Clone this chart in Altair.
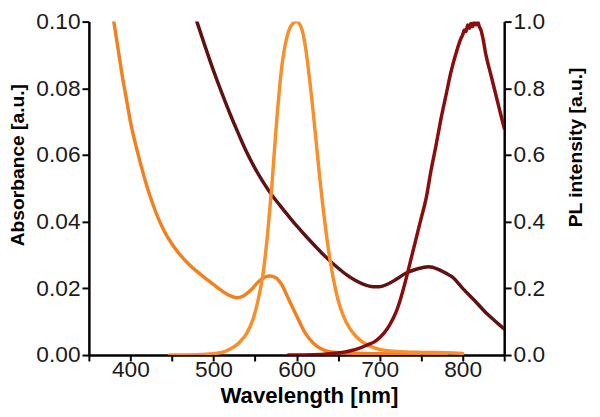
import altair as alt
import pandas as pd

# ---- data ----
orange_abs_wl = [380, 385, 390, 395, 400, 410, 420, 430, 440, 450, 460, 470, 480, 490, 500,
                 510, 520, 528, 535, 545, 555, 562, 568, 575, 582, 590, 600, 610, 620, 630,
                 640, 660, 700, 750, 780]
orange_abs_val = [0.100, 0.092, 0.084, 0.077, 0.070, 0.0595, 0.0505, 0.0432, 0.0375, 0.0333,
                  0.0300, 0.0273, 0.0251, 0.0231, 0.0212, 0.0193, 0.0178, 0.0172, 0.0176, 0.0195,
                  0.0222, 0.0234, 0.0237, 0.0232, 0.0212, 0.0170, 0.0118, 0.0068, 0.0036, 0.0018,
                  0.0010, 0.0006, 0.0004, 0.0003, 0.0002]

dark_abs_wl = [480, 490, 500, 510, 520, 530, 540, 550, 560, 570, 580, 590, 600, 610, 620, 630,
               640, 650, 660, 670, 680, 692, 700, 710, 720, 732, 745, 759, 770, 780, 787, 800,
               816, 830, 840, 850]
dark_abs_val = [0.100, 0.0925, 0.0853, 0.0786, 0.0723, 0.0664, 0.0608, 0.0560, 0.0518, 0.0481,
                0.0449, 0.0418, 0.0388, 0.0360, 0.0333, 0.0307, 0.0283, 0.0261, 0.0241, 0.0225,
                0.0213, 0.0205, 0.0205, 0.0213, 0.0227, 0.0246, 0.0258, 0.0265, 0.0258, 0.0245,
                0.0235, 0.0200, 0.0159, 0.0122, 0.0100, 0.0078]

orange_pl_wl = [447, 480, 500, 515, 525, 532, 540, 548, 555, 560, 565, 570, 576, 582, 588, 594,
                600, 606, 611, 616, 620, 624, 628, 632, 636, 640, 645, 650, 656, 664, 672, 680,
                690, 700, 720, 750, 780, 800]
orange_pl_val = [0.0, 0.001, 0.004, 0.012, 0.025, 0.040, 0.065, 0.110, 0.180, 0.250, 0.360,
                 0.500, 0.700, 0.860, 0.950, 0.990, 1.000, 0.980, 0.920, 0.820, 0.730, 0.630,
                 0.530, 0.440, 0.360, 0.290, 0.220, 0.165, 0.120, 0.080, 0.055, 0.038, 0.025,
                 0.017, 0.011, 0.008, 0.007, 0.005]

dark_pl_wl = [590, 620, 640, 655, 665, 675, 685, 695, 705, 712, 720, 726, 732, 738, 744, 750,
              756, 762, 768, 774, 780, 786, 792, 798, 800, 802, 804, 806, 808, 810, 812, 814,
              816, 818, 820, 822, 824, 828, 834, 840, 846, 850]
dark_pl_val = [0.0, 0.001, 0.004, 0.008, 0.013, 0.020, 0.030, 0.042, 0.065, 0.090, 0.130, 0.175,
               0.230, 0.290, 0.350, 0.410, 0.470, 0.555, 0.630, 0.710, 0.780, 0.850, 0.905,
               0.950, 0.960, 0.975, 0.970, 0.990, 0.980, 0.995, 0.985, 1.000, 0.990, 1.000,
               0.985, 0.975, 0.955, 0.900, 0.840, 0.780, 0.720, 0.680]

x_ticks = [350, 400, 450, 500, 550, 600, 650, 700, 750, 800, 850]
abs_ticks = [0.0, 0.02, 0.04, 0.06, 0.08, 0.10]
pl_ticks = [0.0, 0.2, 0.4, 0.6, 0.8, 1.0]

series_names = ["Orange abs", "Dark abs", "Orange PL", "Dark PL"]
series_colors = ["#F2801F", "#5E1212", "#F78F2A", "#8A0C0C"]
series_widths = [3.5, 3.5, 3.5, 4]

abs_df = pd.concat([
    pd.DataFrame({"wl": orange_abs_wl, "val": orange_abs_val, "series": "Orange abs"}),
    pd.DataFrame({"wl": dark_abs_wl, "val": dark_abs_val, "series": "Dark abs"}),
])
pl_df = pd.concat([
    pd.DataFrame({"wl": orange_pl_wl, "val": orange_pl_val, "series": "Orange PL"}),
    pd.DataFrame({"wl": dark_pl_wl, "val": dark_pl_val, "series": "Dark PL"}),
])

FONT = "Liberation Sans"
color = alt.Color("series:N", scale=alt.Scale(domain=series_names, range=series_colors), legend=None)
width_enc = alt.StrokeWidth("series:N", scale=alt.Scale(domain=series_names, range=series_widths), legend=None)

x_enc = alt.X(
    "wl:Q",
    scale=alt.Scale(domain=[350, 850], nice=False, zero=False),
    axis=alt.Axis(
        values=x_ticks,
        labelExpr="datum.value % 100 == 0 ? datum.label : ''",
        grid=False, tickSize=6, tickWidth=2, tickColor="black",
        domainColor="black", domainWidth=2.5,
        labelFont=FONT, labelFontSize=23, labelColor="#1a1a1a", labelPadding=-2,
        labelFlush=False, labelOverlap=False,
        title="Wavelength [nm]", titleFont=FONT, titleFontSize=22.5, titleFontWeight="bold",
        titleColor="black", titleX=223, titleY=41, titleBaseline="middle", titleAlign="center",
    ),
)

abs_layer = alt.Chart(abs_df).mark_line(clip=True, strokeCap="round", interpolate="monotone").encode(
    x=x_enc,
    y=alt.Y(
        "val:Q",
        scale=alt.Scale(domain=[0, 0.1], nice=False),
        axis=alt.Axis(
            orient="left", values=abs_ticks, format=".2f", grid=False,
            tickSize=7, tickWidth=2, tickColor="black", domainColor="black", domainWidth=2.5,
            labelFont=FONT, labelFontSize=23, labelColor="#1a1a1a", labelPadding=2,
            labelFlush=False, labelOverlap=False,
            title="Absorbance [a.u.]", titleFont=FONT, titleFontSize=19.5, titleFontWeight="bold",
            titleColor="black", titleAngle=270, titleX=-72, titleY=145,
            titleBaseline="middle", titleAlign="center",
        ),
    ),
    color=color,
    strokeWidth=width_enc,
)

pl_layer = alt.Chart(pl_df).mark_line(clip=True, strokeCap="round", interpolate="monotone").encode(
    x=x_enc,
    y=alt.Y(
        "val:Q",
        scale=alt.Scale(domain=[0, 1.0], nice=False),
        axis=alt.Axis(
            orient="right", values=pl_ticks, format=".1f", grid=False,
            tickSize=7, tickWidth=2, tickColor="black", domainColor="black", domainWidth=2.5,
            labelFont=FONT, labelFontSize=23, labelColor="#1a1a1a", labelPadding=2,
            labelFlush=False, labelOverlap=False,
            title="PL intensity [a.u.]", titleFont=FONT, titleFontSize=19.5, titleFontWeight="bold",
            titleColor="black", titleAngle=270, titleX=72, titleY=127,
            titleBaseline="middle", titleAlign="center",
        ),
    ),
    color=color,
    strokeWidth=width_enc,
)

chart = (
    alt.layer(abs_layer, pl_layer)
    .resolve_scale(y="independent")
    .properties(
        width=421,
        height=338,
        autosize=alt.AutoSizeParams(type="none"),
        padding={"left": 82, "top": 11, "right": 89, "bottom": 60},
        background="white",
    )
    .configure_view(stroke="transparent")
)

chart.save("out.html", embed_options={"renderer": "svg", "actions": False})
